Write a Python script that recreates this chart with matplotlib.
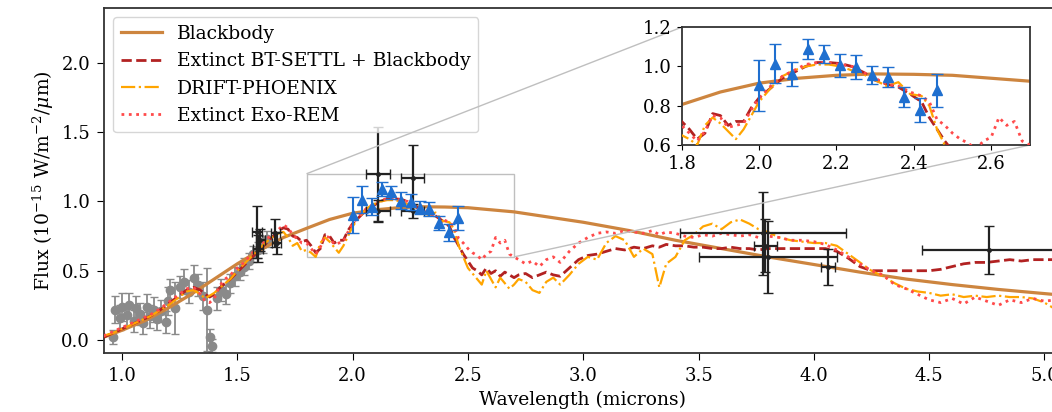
import matplotlib
matplotlib.use("Agg")
import matplotlib.pyplot as plt
from mpl_toolkits.axes_grid1.inset_locator import mark_inset

plt.rcParams['font.family'] = ['DejaVu Serif']
plt.rcParams['mathtext.fontset'] = 'dejavuserif'
plt.rcParams['font.size'] = 13.5
plt.rcParams['xtick.labelsize'] = 13
plt.rcParams['ytick.labelsize'] = 13

# ---- model spectra (shared wavelength grid, microns) ----
wl_model = [0.92, 0.96, 1.00, 1.04, 1.08, 1.12, 1.16, 1.20, 1.24, 1.28,
            1.31, 1.34, 1.36, 1.38, 1.40, 1.42, 1.44, 1.47, 1.50, 1.53,
            1.56, 1.59, 1.62, 1.65, 1.68, 1.70, 1.72, 1.74, 1.76, 1.78,
            1.80, 1.82, 1.84, 1.86, 1.88, 1.90, 1.92, 1.94, 1.96, 1.98,
            2.00, 2.03, 2.06, 2.09, 2.12, 2.15, 2.18, 2.21, 2.24, 2.27,
            2.30, 2.33, 2.36, 2.39, 2.42, 2.44, 2.46, 2.48, 2.50, 2.52,
            2.54, 2.56, 2.58, 2.60, 2.62, 2.64, 2.66, 2.68, 2.70, 2.72,
            2.75, 2.78, 2.81, 2.84, 2.87, 2.90, 2.94, 2.98, 3.02, 3.06,
            3.10, 3.14, 3.18, 3.22, 3.26, 3.30, 3.33, 3.36, 3.40, 3.44,
            3.48, 3.52, 3.56, 3.60, 3.64, 3.68, 3.72, 3.76, 3.80, 3.85,
            3.90, 3.95, 4.00, 4.05, 4.10, 4.15, 4.20, 4.25, 4.30, 4.35,
            4.40, 4.45, 4.50, 4.55, 4.60, 4.65, 4.70, 4.75, 4.80, 4.85,
            4.90, 4.95, 5.00, 5.05, 5.10]

bt_settl = [0.02, 0.05, 0.08, 0.11, 0.14, 0.17, 0.21, 0.26, 0.31, 0.36,
            0.38, 0.36, 0.33, 0.31, 0.33, 0.37, 0.40, 0.44, 0.49, 0.54,
            0.59, 0.64, 0.69, 0.74, 0.79, 0.81, 0.80, 0.75, 0.74, 0.71,
            0.72, 0.68, 0.63, 0.66, 0.76, 0.75, 0.70, 0.72, 0.72, 0.79,
            0.84, 0.89, 0.94, 0.97, 1.00, 1.02, 1.02, 1.015, 1.00, 0.97,
            0.93, 0.91, 0.895, 0.86, 0.82, 0.74, 0.68, 0.62, 0.57, 0.52,
            0.50, 0.47, 0.52, 0.48, 0.50, 0.46, 0.49, 0.47, 0.45, 0.47,
            0.48, 0.45, 0.47, 0.49, 0.47, 0.46, 0.52, 0.58, 0.61, 0.62,
            0.64, 0.66, 0.65, 0.67, 0.66, 0.68, 0.67, 0.69, 0.68, 0.68,
            0.67, 0.67, 0.66, 0.66, 0.67, 0.66, 0.66, 0.65, 0.66, 0.66,
            0.66, 0.66, 0.66, 0.66, 0.64, 0.59, 0.53, 0.50, 0.50, 0.50,
            0.50, 0.50, 0.50, 0.51, 0.53, 0.55, 0.56, 0.56, 0.57, 0.58,
            0.57, 0.58, 0.58, 0.58, 0.58]

drift_phoenix = [0.03, 0.05, 0.08, 0.11, 0.14, 0.17, 0.21, 0.25, 0.30, 0.35,
                 0.36, 0.33, 0.30, 0.32, 0.34, 0.37, 0.40, 0.44, 0.50, 0.55,
                 0.60, 0.65, 0.70, 0.74, 0.77, 0.78, 0.74, 0.68, 0.70, 0.64,
                 0.65, 0.63, 0.60, 0.70, 0.74, 0.71, 0.67, 0.63, 0.68, 0.75,
                 0.82, 0.89, 0.95, 0.98, 1.00, 1.01, 1.01, 1.00, 0.98, 0.96,
                 0.93, 0.90, 0.92, 0.86, 0.85, 0.80, 0.68, 0.60, 0.52, 0.48,
                 0.44, 0.40, 0.50, 0.44, 0.38, 0.45, 0.41, 0.37, 0.40, 0.44,
                 0.42, 0.36, 0.34, 0.42, 0.45, 0.40, 0.47, 0.55, 0.60, 0.58,
                 0.70, 0.75, 0.72, 0.60, 0.66, 0.62, 0.38, 0.55, 0.60, 0.72,
                 0.76, 0.82, 0.84, 0.80, 0.85, 0.87, 0.84, 0.80, 0.78, 0.74,
                 0.72, 0.71, 0.70, 0.70, 0.68, 0.62, 0.56, 0.50, 0.46, 0.41,
                 0.37, 0.35, 0.34, 0.32, 0.33, 0.31, 0.32, 0.31, 0.32, 0.31,
                 0.31, 0.30, 0.27, 0.22, 0.20]

exo_rem = [0.03, 0.06, 0.09, 0.12, 0.15, 0.18, 0.22, 0.27, 0.32, 0.37,
           0.38, 0.33, 0.28, 0.27, 0.30, 0.38, 0.43, 0.47, 0.52, 0.56,
           0.62, 0.67, 0.72, 0.76, 0.80, 0.83, 0.81, 0.76, 0.73, 0.70,
           0.70, 0.66, 0.62, 0.67, 0.75, 0.74, 0.69, 0.70, 0.71, 0.78,
           0.84, 0.90, 0.95, 0.98, 1.01, 1.02, 1.02, 1.01, 1.00, 0.97,
           0.94, 0.91, 0.90, 0.87, 0.85, 0.82, 0.73, 0.70, 0.66, 0.63,
           0.61, 0.58, 0.62, 0.64, 0.74, 0.70, 0.72, 0.62, 0.60, 0.58,
           0.55, 0.57, 0.53, 0.58, 0.60, 0.56, 0.64, 0.70, 0.74, 0.77,
           0.78, 0.77, 0.79, 0.78, 0.77, 0.79, 0.76, 0.78, 0.77, 0.75,
           0.74, 0.76, 0.75, 0.77, 0.76, 0.75, 0.76, 0.74, 0.75, 0.74,
           0.72, 0.72, 0.71, 0.69, 0.65, 0.60, 0.55, 0.50, 0.47, 0.40,
           0.37, 0.33, 0.29, 0.27, 0.30, 0.26, 0.31, 0.28, 0.25, 0.29,
           0.27, 0.30, 0.28, 0.29, 0.27]

# blackbody curve
bb_wl = [0.92, 1.0, 1.1, 1.2, 1.3, 1.4, 1.5, 1.6, 1.7, 1.8, 1.9, 2.0, 2.1,
         2.2, 2.3, 2.4, 2.5, 2.6, 2.7, 2.8, 3.0, 3.2, 3.4, 3.6, 3.8, 4.0,
         4.2, 4.4, 4.6, 4.8, 5.0, 5.1]
bb_flux = [0.02, 0.07, 0.14, 0.23, 0.33, 0.44, 0.55, 0.65, 0.74, 0.806,
           0.87, 0.915, 0.94, 0.955, 0.962, 0.96, 0.955, 0.94, 0.925, 0.90,
           0.85, 0.79, 0.72, 0.66, 0.60, 0.545, 0.49, 0.44, 0.40, 0.365,
           0.335, 0.32]

# ---- observations ----
# near-IR spectrum (grey)
spec_wl = [0.96, 0.97, 0.99, 1.00, 1.02, 1.03, 1.05, 1.06, 1.08, 1.09,
           1.11, 1.12, 1.14, 1.15, 1.17, 1.19, 1.20, 1.21, 1.23, 1.25,
           1.27, 1.29, 1.31, 1.33, 1.35, 1.37, 1.38, 1.39, 1.41, 1.43,
           1.45, 1.47, 1.49, 1.51, 1.53, 1.55, 1.57, 1.59, 1.61, 1.63]
spec_flux = [0.02, 0.22, 0.16, 0.24, 0.18, 0.25, 0.14, 0.23, 0.19, 0.12,
             0.24, 0.17, 0.22, 0.15, 0.21, 0.13, 0.28, 0.36, 0.23, 0.38,
             0.42, 0.35, 0.45, 0.40, 0.32, 0.22, 0.02, -0.04, 0.30, 0.36,
             0.33, 0.41, 0.46, 0.49, 0.53, 0.57, 0.62, 0.65, 0.69, 0.73]
spec_err = [0.05, 0.10, 0.09, 0.10, 0.08, 0.09, 0.08, 0.09, 0.08, 0.08,
            0.09, 0.08, 0.09, 0.08, 0.08, 0.08, 0.10, 0.08, 0.19, 0.08,
            0.09, 0.08, 0.09, 0.08, 0.10, 0.30, 0.06, 0.05, 0.08, 0.08,
            0.07, 0.07, 0.07, 0.06, 0.06, 0.06, 0.06, 0.06, 0.06, 0.06]

# K-band spectrum (blue triangles)
k_wl = [2.000, 2.042, 2.084, 2.126, 2.168, 2.210,
        2.251, 2.292, 2.333, 2.375, 2.417, 2.459]
k_flux = [0.904, 1.014, 0.963, 1.090, 1.065, 1.005,
          0.997, 0.955, 0.946, 0.845, 0.777, 0.879]
k_err = [0.13, 0.10, 0.06, 0.05, 0.045, 0.06,
         0.06, 0.045, 0.05, 0.05, 0.06, 0.085]

# photometry (black)
phot_wl = [1.585, 1.590, 1.600, 1.665, 1.670, 2.11, 2.11, 2.26, 2.26,
           3.78, 3.79, 3.80, 4.06, 4.76]
phot_flux = [0.78, 0.66, 0.72, 0.77, 0.70, 1.20, 0.93, 1.17, 0.93,
             0.77, 0.68, 0.60, 0.53, 0.65]
phot_yerr = [0.19, 0.10, 0.08, 0.10, 0.08, 0.34, 0.08, 0.24, 0.05,
             0.30, 0.19, 0.26, 0.13, 0.17]
phot_xerr = [0.02, 0.02, 0.02, 0.02, 0.02, 0.05, 0.05, 0.05, 0.05,
             0.36, 0.05, 0.30, 0.03, 0.29]


def draw(ax, photometry=True):
    ax.errorbar(spec_wl, spec_flux, yerr=spec_err, fmt='o', color='#8a8a8a',
                ms=6, lw=1.3, capsize=3, zorder=1)
    ax.plot(bb_wl, bb_flux, color='peru', lw=2.3, label='Blackbody', zorder=2)
    ax.plot(wl_model, bt_settl, color='firebrick', ls='--', lw=2,
            label='Extinct BT-SETTL + Blackbody', zorder=3)
    ax.plot(wl_model, drift_phoenix, color='orange', ls='-.', lw=1.6,
            label='DRIFT-PHOENIX', zorder=3)
    ax.plot(wl_model, exo_rem, color='#ff4a4a', ls=':', lw=2,
            label='Extinct Exo-REM', zorder=3)
    if photometry:
        ax.errorbar(phot_wl, phot_flux, yerr=phot_yerr, xerr=phot_xerr,
                    fmt='.', color='#222222', ms=5, lw=1.6, capsize=3.5,
                    zorder=5)
    ax.errorbar(k_wl, k_flux, yerr=k_err, fmt='^', color='#1f6fcf',
                ms=7, lw=1.5, capsize=4, zorder=6)


fig = plt.figure(figsize=(10.52, 4.12), dpi=100)
ax = fig.add_axes([0.0989, 0.1432, 0.909, 0.8374])
draw(ax)
ax.set_xlim(0.922, 5.069)
ax.set_ylim(-0.094, 2.397)
ax.set_xticks([1.0, 1.5, 2.0, 2.5, 3.0, 3.5, 4.0, 4.5, 5.0])
ax.set_yticks([0.0, 0.5, 1.0, 1.5, 2.0])
ax.set_xlabel('Wavelength (microns)')
ax.set_ylabel(r'Flux (10$^{-15}$ W/m$^{-2}$/$\mu$m)')
ax.tick_params(length=5, pad=5)
ax.legend(loc='upper left', fontsize=13.5, framealpha=0.8, handlelength=2.2)

axins = fig.add_axes([0.648, 0.648, 0.331, 0.286])
draw(axins, photometry=False)
axins.set_xlim(1.8, 2.7)
axins.set_ylim(0.6, 1.2)
axins.set_xticks([1.8, 2.0, 2.2, 2.4, 2.6])
axins.set_yticks([0.6, 0.8, 1.0, 1.2])
mark_inset(ax, axins, loc1=2, loc2=4, fc='none', ec='0.75', lw=1)

for a in (ax, axins):
    for s in a.spines.values():
        s.set_linewidth(1.3)
        s.set_color('#333333')

fig.savefig('out.png', dpi=100)
